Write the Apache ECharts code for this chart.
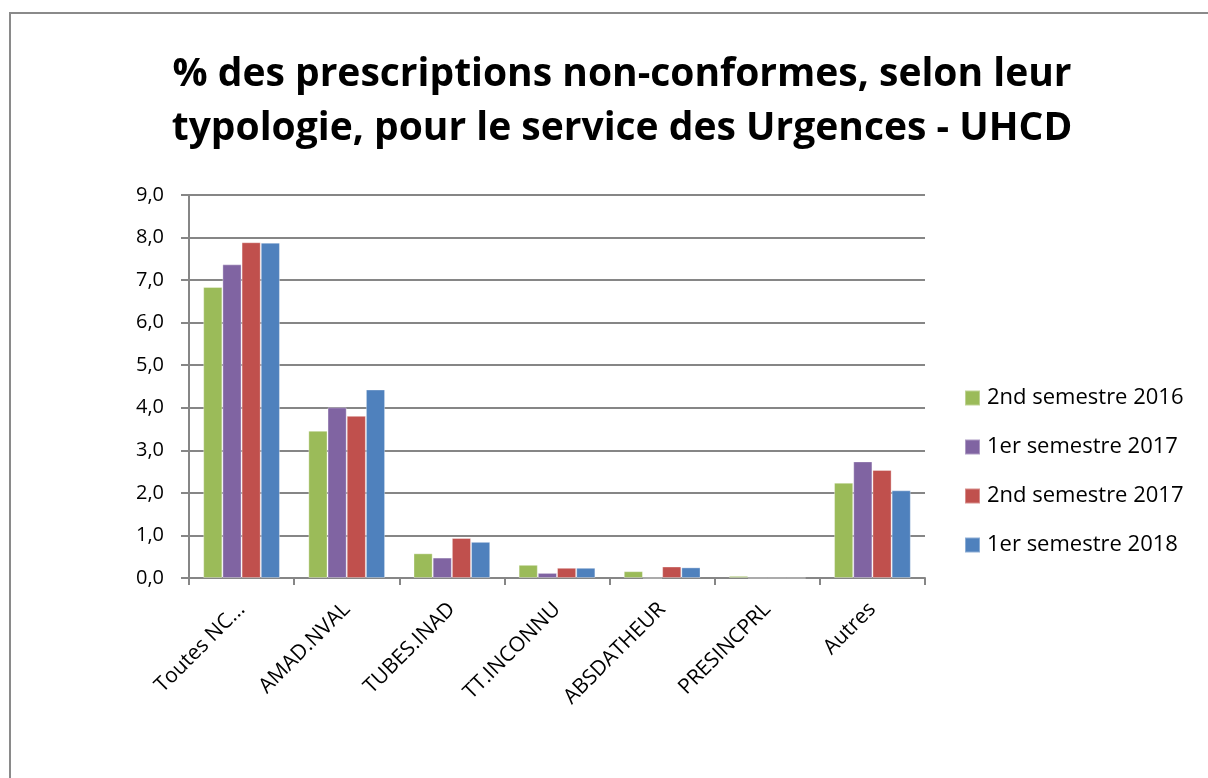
<!DOCTYPE html>
<html>
<head>
<meta charset="utf-8">
<script src="https://cdn.jsdelivr.net/npm/echarts@6/dist/echarts.min.js"></script>
<style>
  html, body { margin: 0; padding: 0; background: #fff; }
  #frame { position: absolute; left: 9px; top: 12px; width: 1220px; height: 800px;
           border: 2px solid #8a8a8a; box-sizing: border-box; }
  #chart { position: absolute; left: 0; top: 0; width: 1208px; height: 778px; }
</style>
</head>
<body>
<div id="frame"></div>
<div id="chart"></div>
<script>
// données
const CATEGORIES = ['Toutes NC...', 'AMAD.NVAL', 'TUBES.INAD', 'TT.INCONNU', 'ABSDATHEUR', 'PRESINCPRL', 'Autres'];
const S2_2016 = [6.84, 3.46, 0.58, 0.31, 0.16, 0.05, 2.24];
const S1_2017 = [7.37, 4.01, 0.48, 0.12, 0.00, 0.00, 2.74];
const S2_2017 = [7.89, 3.81, 0.94, 0.24, 0.27, 0.00, 2.54];
const S1_2018 = [7.88, 4.43, 0.85, 0.24, 0.25, 0.00, 2.06];
const SERIES_NAMES = ['2nd semestre 2016', '1er semestre 2017', '2nd semestre 2017', '1er semestre 2018'];
const COLORS = ['#9bbb59', '#8064a2', '#c0504d', '#4f81bd'];

const FONT = '"Open Sans", "Noto Sans", sans-serif';
const chart = echarts.init(document.getElementById('chart'));
const values = [S2_2016, S1_2017, S2_2017, S1_2018];

chart.setOption({
  animation: false,
  title: {
    text: '% des prescriptions non-conformes, selon leur\ntypologie, pour le service des Urgences - UHCD',
    left: 617,
    textAlign: 'center',
    top: 43,
    textStyle: { fontFamily: FONT, fontSize: 39, fontWeight: 'bold', color: '#000', lineHeight: 54 }
  },
  legend: {
    orient: 'vertical',
    left: 959,
    top: 382,
    itemWidth: 15,
    itemHeight: 15,
    itemGap: 27,
    icon: 'rect',
    textStyle: { fontFamily: FONT, fontSize: 22, lineHeight: 20, color: '#000', padding: [0, 0, 0, 2] },
    data: SERIES_NAMES
  },
  grid: { left: 189, right: 283, top: 195, bottom: 200 },
  xAxis: {
    type: 'category',
    data: CATEGORIES,
    axisLine: { lineStyle: { color: '#868686', width: 2 } },
    axisTick: { show: true, length: 7, lineStyle: { color: '#868686', width: 2 } },
    axisLabel: { rotate: 45, fontFamily: FONT, fontSize: 21, color: '#000', margin: 28, interval: 0 }
  },
  yAxis: {
    type: 'value',
    min: 0,
    max: 9,
    interval: 1,
    axisLine: { show: true, lineStyle: { color: '#868686', width: 2 } },
    axisTick: { show: true, length: 8, lineStyle: { color: '#868686', width: 2 } },
    splitLine: { lineStyle: { color: '#868686', width: 2 } },
    axisLabel: {
      fontFamily: FONT, fontSize: 20, color: '#000', margin: 25,
      formatter: v => v.toFixed(1).replace('.', ',')
    }
  },
  series: values.map((data, i) => ({
    name: SERIES_NAMES[i],
    type: 'bar',
    data: data,
    barGap: '0%',
    barCategoryGap: '27%',
    itemStyle: { color: COLORS[i], borderColor: 'rgba(255,255,255,0.35)', borderWidth: 1 }
  }))
});
</script>
</body>
</html>
